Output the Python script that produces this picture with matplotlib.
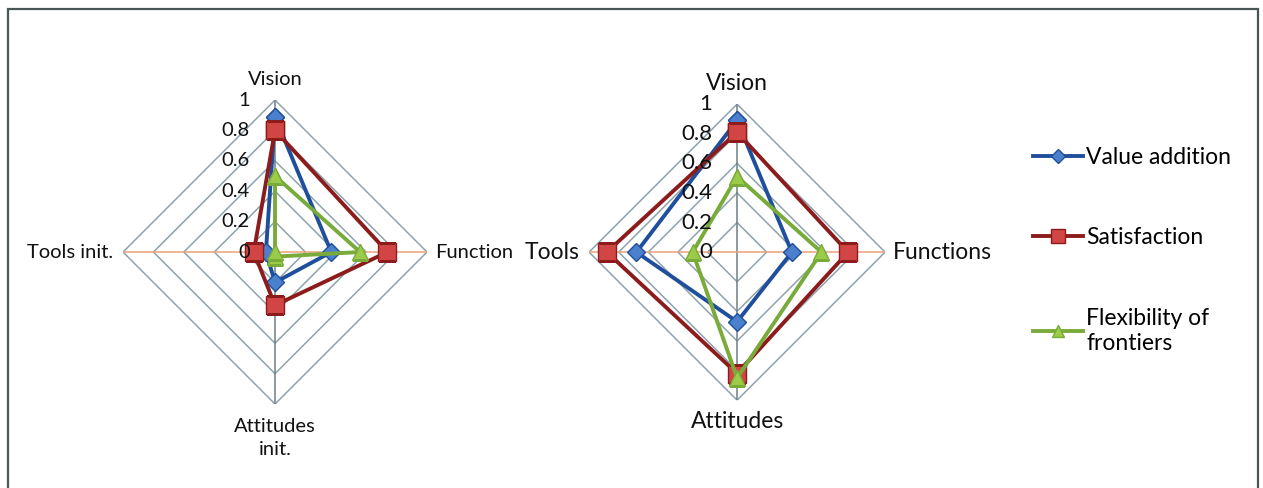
import numpy as np
import matplotlib
matplotlib.use("Agg")
import matplotlib.pyplot as plt
from matplotlib.patches import Rectangle
from matplotlib.lines import Line2D

plt.rcParams['font.family'] = ['Lato', 'DejaVu Sans']

# data
series_names = ["Value addition", "Satisfaction", "Flexibility of\nfrontiers"]
left_labels = ["Vision", "Function", "Attitudes\ninit.", "Tools init."]
right_labels = ["Vision", "Functions", "Attitudes", "Tools"]

left_value_addition = [0.89, 0.37, 0.20, 0.06]
left_satisfaction = [0.80, 0.74, 0.35, 0.14]
left_flexibility = [0.50, 0.56, 0.03, 0.00]

right_value_addition = [0.89, 0.37, 0.47, 0.68]
right_satisfaction = [0.81, 0.75, 0.82, 0.88]
right_flexibility = [0.51, 0.57, 0.85, 0.30]

r_ticks = [0, 0.2, 0.4, 0.6, 0.8, 1.0]
r_tick_labels = ["0", "0.2", "0.4", "0.6", "0.8", "1"]

styles = [
    dict(color="#1f4f9c", marker="D", mfc="#4a80cc", mec="#1f4f9c", ms=9),
    dict(color="#8c1c1c", marker="s", mfc="#d24545", mec="#8c1c1c", ms=13),
    dict(color="#78ab3a", marker="^", mfc="#9bcb48", mec="#78ab3a", ms=12),
]

fig = plt.figure(figsize=(12.63, 4.88), dpi=100)
fig.patches.append(Rectangle((8 / 1263, -0.1), 1250 / 1263, 1 - 9 / 488 + 0.1,
                             transform=fig.transFigure, fill=False,
                             edgecolor="#4a5656", linewidth=1.6))

theta = np.linspace(0, 2 * np.pi, 4, endpoint=False)
theta_closed = np.append(theta, theta[0])


def radar(rect, labels, data, fs, tick_fs, offsets):
    ax = fig.add_axes(rect, projection="polar")
    ax.set_theta_offset(np.pi / 2)
    ax.set_theta_direction(-1)
    ax.set_ylim(0, 1)
    ax.grid(False)
    ax.spines["polar"].set_visible(False)
    ax.set_xticks([])
    ax.set_yticks([])
    ax.patch.set_alpha(0)
    # diamond grid
    for r in r_ticks[1:]:
        ax.plot(theta_closed, [r] * 5, color="#8ea3ad", lw=1.1, zorder=1)
    # spokes
    ax.plot([theta[0], theta[2]], [1, 1], color="#6f7f86", lw=1.1, zorder=1)
    ax.plot([theta[1], theta[3]], [1, 1], color="#eaa27a", lw=1.1, zorder=1)
    for vals, st in zip(data, styles):
        v = list(vals) + [vals[0]]
        ax.plot(theta_closed, v, lw=2.8, markeredgewidth=1.0, zorder=3, **st)
    for r, t in zip(r_ticks, r_tick_labels):
        ax.annotate(t, xy=(0, r), xytext=(-25, 0), textcoords="offset pixels",
                    ha="right", va="center", fontsize=tick_fs, color="#111111", zorder=4)
    has = [("center", "bottom"), ("left", "center"), ("center", "top"), ("right", "center")]
    for th, lab, (ha, va), off in zip(theta, labels, has, offsets):
        ax.annotate(lab, xy=(th, 1), xytext=off, textcoords="offset pixels",
                    ha=ha, va=va, fontsize=fs, color="#111111", linespacing=1.4)
    return ax


radar([0.0974, 0.172, 0.2407, 0.623], left_labels,
      [left_value_addition, left_satisfaction, left_flexibility], 14.5, 14.5,
      [(0, 12), (8, 0), (0, -14), (-10, 0)])
radar([0.4664, 0.180, 0.2344, 0.6066], right_labels,
      [right_value_addition, right_satisfaction, right_flexibility], 16.5, 16,
      [(0, 10), (8, 0), (0, -11), (-10, 0)])

# legend
handles = [Line2D([0], [0], lw=2.8, markeredgewidth=1.0, **st) for st in styles]
leg = fig.legend(handles, series_names, loc="upper left",
                 bbox_to_anchor=(1012 / 1263, 1 - 126 / 488), frameon=False,
                 fontsize=16.5, handlelength=2.2, handletextpad=0.15,
                 labelspacing=2.6, markerscale=0.75)
for t in leg.get_texts():
    t.set_linespacing(1.25)

fig.savefig("out.png", dpi=100)
